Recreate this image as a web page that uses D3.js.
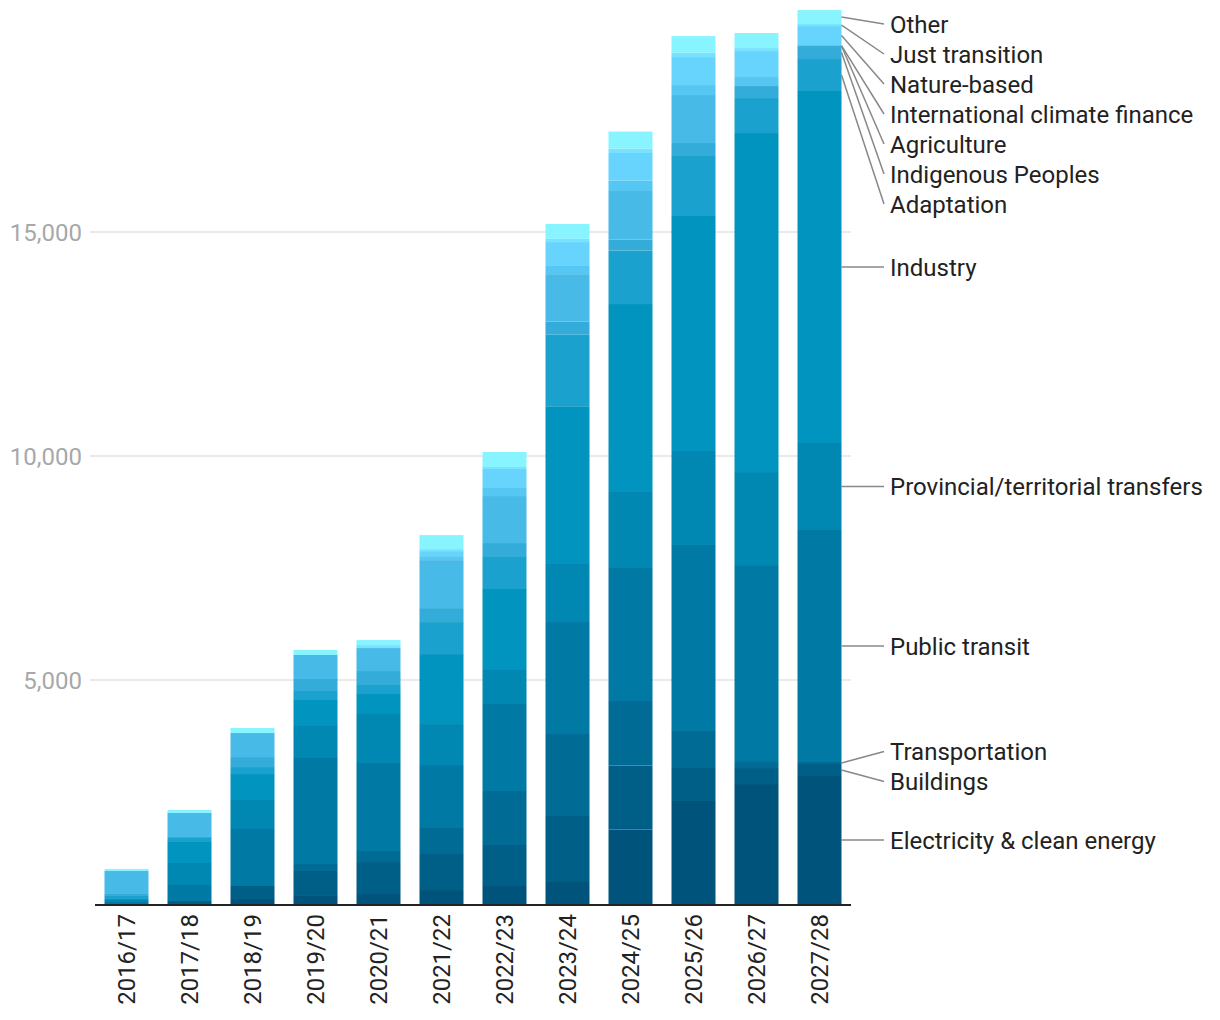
<!DOCTYPE html>
<html><head><meta charset="utf-8">
<script src="https://cdn.jsdelivr.net/npm/d3@7"></script>
<style>
body{margin:0;background:#fff;}
text{font-family:Roboto,"Noto Sans",sans-serif;}
</style>
</head><body>
<svg id="chart" width="1220" height="1020"></svg>
<script>
// ---- data ----
const years = ["2016/17","2017/18","2018/19","2019/20","2020/21","2021/22","2022/23","2023/24","2024/25","2025/26","2026/27","2027/28"];
const seriesNames = ["Electricity & clean energy","Buildings","Transportation","Public transit","Provincial/territorial transfers","Industry","Adaptation","Indigenous Peoples","Agriculture","International climate finance","Nature-based","Just transition","Other"];
const electricity    = [0,   0,   112, 179, 223, 312, 402, 491, 1663, 2299, 2678, 2857];
const buildings      = [0,   67,  290, 558, 714, 804, 915, 1473, 1428, 737, 357, 268];
const transportation = [0,   0,   0,   156, 246, 580, 1205, 1830, 1440, 826, 156, 45];
const publicTransit  = [45,  357, 1272, 2366, 1964, 1406, 1942, 2500, 2969, 4152, 4375, 5178];
const provincial     = [45,  491, 647, 714, 1094, 915, 759, 1295, 1696, 2098, 2076, 1942];
const industry       = [22,  469, 580, 580, 446, 1562, 1808, 3522, 4196, 5245, 7567, 7857];
const adaptation     = [67,  89,  156, 201, 201, 714, 714, 1596, 1194, 1339, 781, 714];
const indigenous     = [45,  22,  223, 268, 312, 312, 312, 292, 246, 290, 268, 290];
const agriculture    = [513, 536, 536, 536, 513, 1071, 1049, 1060, 1083, 1071, 0, 0];
const climateFinance = [0,   0,   0,   0,   0,   89,  179, 183, 234, 223, 201, 22];
const natureBased    = [0,   0,   0,   0,   0,   112, 424, 533, 614, 625, 580, 424];
const justTransition = [0,   0,   0,   0,   67,  45,  45,  71,  100, 96,  67,  45];
const other          = [45,  67,  112, 112, 112, 312, 335, 333, 379, 372, 335, 312];
const colors = ["#00547b","#005f87","#006c96","#0079a5","#0087b2","#0094bf","#1aa1cd","#33acd9","#47bae7","#56c6f3","#66d4fc","#77e3fe","#88f4ff"];
const yTicks = [5000, 10000, 15000];

const seriesValues = [electricity,buildings,transportation,publicTransit,provincial,industry,adaptation,indigenous,agriculture,climateFinance,natureBased,justTransition,other];
const rows = years.map((yr,i)=>{ const r={year:yr}; seriesNames.forEach((n,k)=>r[n]=seriesValues[k][i]); return r; });

// ---- layout ----
const svg = d3.select("#chart");
const left = 95, right = 851, base = 904;
const x = d3.scaleBand().domain(years).range([left,right]).paddingInner(0.3016).paddingOuter(0.1508);
const y = d3.scaleLinear().domain([0,15000]).range([base,232]);

// grid
svg.append("g").selectAll("line").data(yTicks).join("line")
  .attr("x1",90).attr("x2",right).attr("y1",d=>y(d)).attr("y2",d=>y(d))
  .attr("stroke","#e3e3e3").attr("stroke-width",1.5);
svg.append("g").selectAll("text").data(yTicks).join("text")
  .attr("x",82).attr("y",d=>y(d)).attr("dy","0.36em").attr("text-anchor","end")
  .attr("fill","#a8a8a8").attr("font-size",24).text(d3.format(","));

// bars
const stack = d3.stack().keys(seriesNames)(rows);
svg.append("g").selectAll("g").data(stack).join("g")
  .attr("fill",(d,i)=>colors[i])
  .selectAll("rect").data(d=>d).join("rect")
  .attr("x",d=>x(d.data.year)).attr("width",x.bandwidth())
  .attr("y",d=>y(d[1])).attr("height",d=>Math.max(0,y(d[0])-y(d[1])));

// baseline
svg.append("line").attr("x1",left).attr("x2",right).attr("y1",base+1).attr("y2",base+1)
  .attr("stroke","#222").attr("stroke-width",2);

// x labels
svg.append("g").selectAll("text").data(years).join("text")
  .attr("transform",d=>`translate(${x(d)+x.bandwidth()/2},914) rotate(-90)`)
  .attr("dy","0.36em").attr("text-anchor","end").attr("fill","#222").attr("font-size",24).text(d=>d);

// labels for last bar
const lastYear = years[years.length-1];
const barRight = x(lastYear)+x.bandwidth();
const labels = stack.map((s,i)=>{ const d=s[s.length-1]; const m=(y(d[0])+y(d[1]))/2; return {name:seriesNames[i], anchor:m, ly:m}; });
labels.sort((a,b)=>a.anchor-b.anchor);
const gap = 30, minY = 24;
for(let it=0; it<500; it++){
  for(let i=1;i<labels.length;i++){
    const ov = gap-(labels[i].ly-labels[i-1].ly);
    if(ov>0){ labels[i-1].ly-=ov/2; labels[i].ly+=ov/2; }
  }
  labels.forEach(l=>{ if(l.ly<minY) l.ly=minY; });
}
const lg = svg.append("g");
lg.selectAll("line").data(labels).join("line")
  .attr("x1",barRight).attr("y1",d=>d.anchor).attr("x2",884).attr("y2",d=>d.ly)
  .attr("stroke","#888").attr("stroke-width",1.5);
lg.selectAll("text").data(labels).join("text")
  .attr("x",890).attr("y",d=>d.ly).attr("dy","0.36em").attr("fill","#222").attr("font-size",24).text(d=>d.name);
</script>
</body></html>
